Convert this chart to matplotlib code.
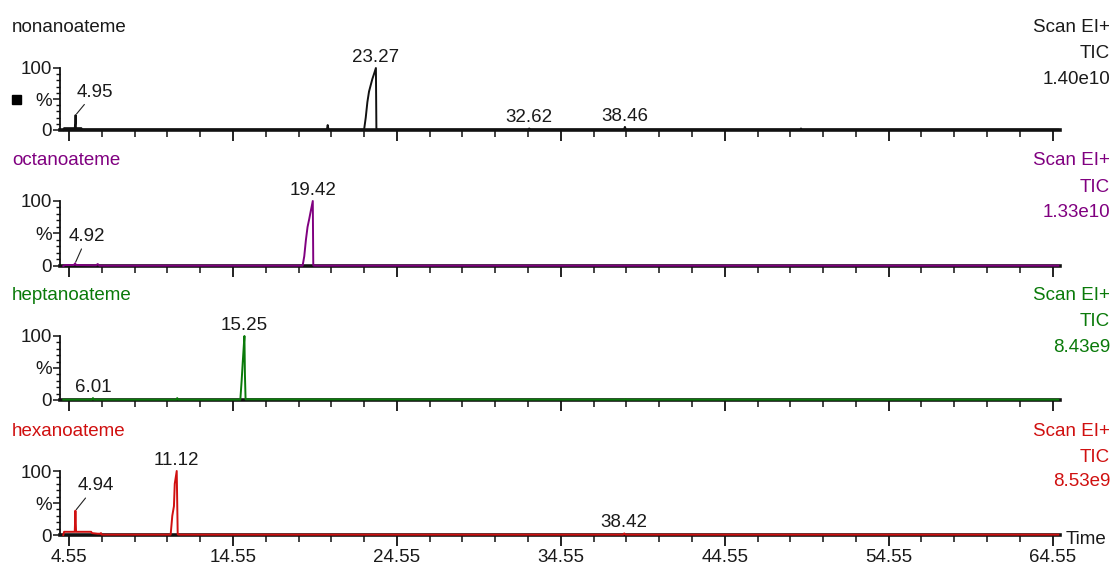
import numpy as np
import matplotlib
matplotlib.use("Agg")
import matplotlib.pyplot as plt
from matplotlib import font_manager
from matplotlib.patches import Rectangle
from matplotlib.ticker import MultipleLocator, FixedLocator

# ---------------- data ----------------
names = ["nonanoateme", "octanoateme", "heptanoateme", "hexanoateme"]
colors = ["#111111", "#800080", "#0a7a0a", "#d01010"]
tic_values = ["1.40e10", "1.33e10", "8.43e9", "8.53e9"]

t_nona = [4.2, 4.25, 4.9, 4.93, 4.95, 4.97, 5.3, 5.35, 5.4, 20.28, 20.33, 20.38,
          22.55, 22.65, 22.75, 22.85, 22.95, 23.05, 23.15, 23.27, 23.30, 23.35,
          32.55, 32.62, 32.7, 38.4, 38.46, 38.52, 49.15, 49.2, 49.25, 64.9]
i_nona = [0, 3, 3, 10, 24, 3, 3, 1, 0.6, 0.6, 8, 0.6,
          0.6, 20, 45, 62, 72, 82, 90, 100, 2, 0.6,
          0.6, 2.5, 0.6, 0.6, 5, 0.6, 0.6, 2.5, 0.6, 0.6]

t_octa = [4.2, 4.3, 4.85, 4.92, 4.98, 6.2, 6.3, 6.4, 18.8, 18.9, 19.0, 19.1,
          19.2, 19.3, 19.42, 19.45, 19.5, 64.9]
i_octa = [0, 1.5, 1.5, 4, 1.5, 1, 3, 0.6, 0.6, 15, 40, 60,
          72, 85, 100, 1, 0.6, 0.6]

t_hept = [4.2, 5.95, 6.01, 6.07, 11.1, 11.15, 11.2, 15.0, 15.08, 15.15, 15.2,
          15.25, 15.28, 15.32, 38.45, 38.5, 38.55, 64.9]
i_hept = [0.6, 0.6, 3, 0.6, 0.6, 3, 0.6, 0.6, 30, 60, 80,
          100, 40, 1, 0.6, 1.5, 0.6, 0.6]

t_hexa = [4.2, 4.25, 4.9, 4.94, 4.98, 5.9, 5.95, 6.3, 6.45, 6.5, 6.55, 10.75,
          10.85, 10.95, 11.0, 11.12, 11.18, 11.25, 38.35, 38.42, 38.5, 64.9]
i_hexa = [0, 5, 5, 38, 5, 5, 3, 2, 2, 3, 0.6, 0.6,
          30, 45, 80, 100, 1, 0.6, 0.6, 2.5, 0.6, 0.6]

times = [t_nona, t_octa, t_hept, t_hexa]
intens = [i_nona, i_octa, i_hept, i_hexa]

peak_labels = [[4.95, 23.27, 32.62, 38.46],
               [4.92, 19.42],
               [6.01, 15.25],
               [4.94, 11.12, 38.42]]

x_major = [4.55, 14.55, 24.55, 34.55, 44.55, 54.55, 64.55]
x_major_labels = ["4.55", "14.55", "24.55", "34.55", "44.55", "54.55", "64.55"]

# ---------------- fonts ----------------
avail = {f.name for f in font_manager.fontManager.ttflist}
if "Liberation Sans Narrow" in avail:
    FONT = "Liberation Sans Narrow"
    FS = 16
else:
    FONT = "Liberation Sans"
    FS = 13.5
plt.rcParams["font.family"] = [FONT, "DejaVu Sans"]
plt.rcParams["font.size"] = FS

W, H = 1120, 578
fig = plt.figure(figsize=(W / 100, H / 100), dpi=100)

def fx(px):
    return px / W

def fy(py):
    return 1 - py / H

tops = [68, 201, 336, 471]
bottoms = [130, 266, 400, 535]
ax_left, ax_right = 60, 1060

# leader-line offsets for small labelled peaks (pixels dx, dy), others directly above
leaders = {(0, 4.95): (19, 23), (1, 4.92): (12, 27), (3, 4.94): (20, 25)}

text_col = "#1a1a1a"
for k in range(4):
    ax = fig.add_axes([fx(ax_left), fy(bottoms[k]), fx(ax_right - ax_left),
                       (bottoms[k] - tops[k]) / H])
    ax.set_xlim(4.0, 65.0)
    ax.set_ylim(0, 100)
    ax.plot(times[k], intens[k], color=colors[k], lw=1.4, zorder=4, clip_on=False)
    for s in ["top", "right"]:
        ax.spines[s].set_visible(False)
    ax.spines["bottom"].set_linewidth(2.6)
    ax.spines["bottom"].set_color("#111111")
    ax.spines["left"].set_linewidth(1.3)
    ax.spines["left"].set_color("#111111")
    ax.patch.set_alpha(0)

    ax.xaxis.set_major_locator(FixedLocator(x_major))
    ax.xaxis.set_minor_locator(FixedLocator(np.arange(4.55, 65.0, 2.0)))
    ax.tick_params(axis="x", which="major", direction="out", length=8, width=1.3,
                   color="#111111", labelsize=FS, labelcolor=text_col, pad=2)
    ax.tick_params(axis="x", which="minor", direction="out", length=5, width=1.1,
                   color="#111111")
    if k == 3:
        ax.set_xticklabels(x_major_labels)
    else:
        ax.set_xticklabels([])

    ax.set_yticks([0, 50, 100])
    ax.set_yticklabels(["0", "%", "100"])
    ax.yaxis.set_minor_locator(MultipleLocator(10))
    ax.tick_params(axis="y", which="major", direction="out", length=5, width=1.1,
                   color="#111111", labelsize=FS, labelcolor=text_col, pad=1)
    ax.tick_params(axis="y", which="minor", direction="out", length=3, width=1.0,
                   color="#111111")

    # peak labels
    tk = np.array(times[k])
    ik = np.array(intens[k])
    for lab in peak_labels[k]:
        idx = int(np.argmin(np.abs(tk - lab)))
        yv = ik[idx]
        txt = f"{lab:.2f}"
        if (k, lab) in leaders:
            dx, dy = leaders[(k, lab)]
            ax.annotate(txt, xy=(lab, yv), xytext=(dx * 0.72, dy * 0.72),
                        textcoords="offset points", ha="center", va="center",
                        color=text_col, fontsize=FS, annotation_clip=False,
                        arrowprops=dict(arrowstyle="-", lw=0.8, color="#222222",
                                        shrinkA=1, shrinkB=1))
        else:
            ax.annotate(txt, xy=(lab, yv), xytext=(0, 1.5),
                        textcoords="offset points", ha="center", va="bottom",
                        color=text_col, fontsize=FS, annotation_clip=False)

    # titles and right-hand labels
    tcol = text_col if k == 0 else colors[k]
    fig.text(fx(12), fy(tops[k] - 40), names[k], ha="left", va="center",
             color=tcol, fontsize=FS)
    fig.text(fx(1110), fy(tops[k] - 40), "Scan EI+", ha="right", va="center",
             color=tcol, fontsize=FS)
    fig.text(fx(1110), fy(tops[k] - 14), "TIC", ha="right", va="center",
             color=tcol, fontsize=FS)
    fig.text(fx(1110), fy(tops[k] + 11), tic_values[k], ha="right", va="center",
             color=tcol, fontsize=FS)

fig.text(fx(1066), fy(539), "Time", ha="left", va="center", color=text_col,
         fontsize=FS)
fig.add_artist(Rectangle((fx(12), fy(104)), 9 / W, 9 / H,
                         transform=fig.transFigure, color="black"))

fig.savefig("out.png", dpi=100, facecolor="white")
